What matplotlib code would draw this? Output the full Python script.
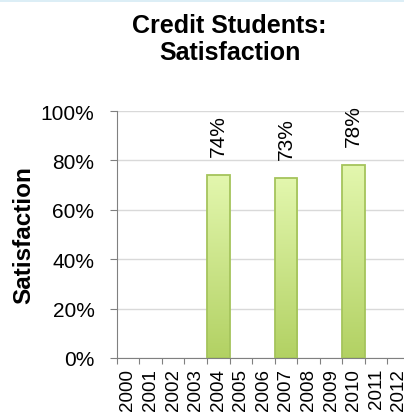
import matplotlib
matplotlib.use("Agg")
import matplotlib.pyplot as plt
import numpy as np
from matplotlib.patches import Rectangle
from matplotlib.colors import LinearSegmentedColormap

plt.rcParams['font.family'] = ['Liberation Sans', 'DejaVu Sans']

years = ['2000', '2001', '2002', '2003', '2004', '2005', '2006',
         '2007', '2008', '2009', '2010', '2011', '2012']
values = [None, None, None, None, 0.74, None, None, 0.73, None, None, 0.78, None, None]
labels = ['', '', '', '', '74%', '', '', '73%', '', '', '78%', '', '']
yticks = [0, 0.2, 0.4, 0.6, 0.8, 1.0]
ytick_labels = ['0%', '20%', '40%', '60%', '80%', '100%']
title_lines = ['Credit Students:', 'Satisfaction']
ylabel = 'Satisfaction'

W, H = 404, 414
fig = plt.figure(figsize=(W/100, H/100), dpi=100)
fig.patches.append(Rectangle((0, 1 - 3/H), 1, 3/H, transform=fig.transFigure,
                             facecolor='#DCEEF6', edgecolor='none'))

ax = fig.add_axes([116.7/W, 55/H, 293.3/W, 247/H])
n = len(years)

cmap = LinearSegmentedColormap.from_list('g', ['#B2D163', '#E3F7AE'])
grad = np.linspace(0, 1, 256).reshape(-1, 1)
for i, v in enumerate(values):
    if v is None:
        continue
    rect = Rectangle((i, 0), 1, v, facecolor='none', edgecolor='#A5C45C', lw=1.3, zorder=4)
    ax.add_patch(rect)
    im = ax.imshow(grad, extent=(i, i + 1, 0, v), origin='lower', cmap=cmap,
                   aspect='auto', zorder=3)
    im.set_clip_path(rect)
    ax.text(i + 0.5, v + 0.077, labels[i], rotation=90, ha='center', va='bottom',
            fontsize=15, color='#000000')

ax.set_xlim(0, n)
ax.set_ylim(0, 1)
ax.set_yticks(yticks)
ax.set_yticklabels(ytick_labels, fontsize=15)
ax.set_xticks(np.arange(n + 1))
ax.set_xticklabels([])
ax.set_xticks(np.arange(n) + 0.5, minor=True)
ax.set_xticklabels(years, minor=True, rotation=90, fontsize=13.5)
ax.tick_params(axis='x', which='minor', length=0, pad=7)
ax.tick_params(axis='x', which='major', length=4, color='#808080', direction='out')
ax.tick_params(axis='y', length=5, color='#808080', direction='out', pad=11)
ax.grid(axis='y', color='#D9D9D9', lw=1)
ax.set_axisbelow(True)
for s in ['top', 'right']:
    ax.spines[s].set_visible(False)
for s in ['left', 'bottom']:
    ax.spines[s].set_color('#808080')
ax.set_ylabel(ylabel, fontsize=17.5, fontweight='bold')
ax.yaxis.set_label_coords((24 - 116.7) / 293.3, 0.5)
ax.yaxis.label.set_va('center')

fig.text(229.5/W, 1 - 33/H, title_lines[0], ha='center', va='baseline', fontsize=18,
         fontweight='bold')
fig.text(229.5/W, 1 - 60/H, title_lines[1], ha='center', va='baseline', fontsize=18,
         fontweight='bold')

fig.savefig('out.png', dpi=100)
